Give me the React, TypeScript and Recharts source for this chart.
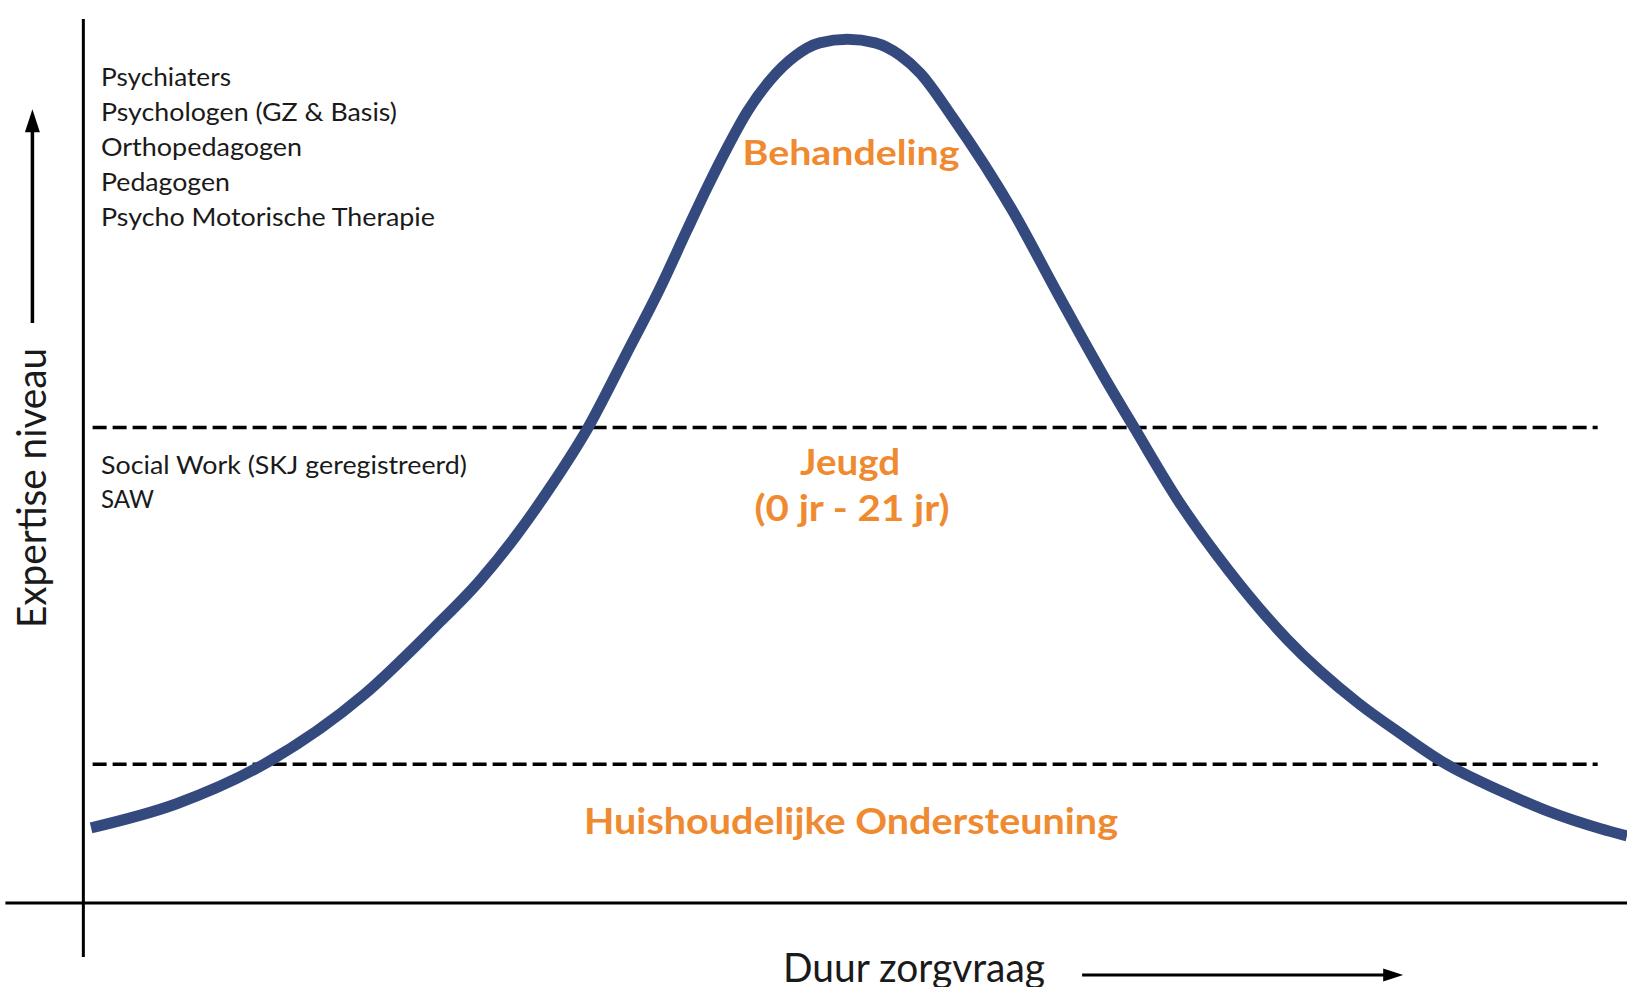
import React from 'react';
import { LineChart, Line, XAxis, YAxis, ReferenceLine, ReferenceDot, Customized } from 'recharts';

// curve: duur (0-100) vs expertise niveau (0-100)
const duur = [0.5, 6.0, 11.7, 18.2, 22.7, 25.7, 28.1, 30.2, 32.7, 35.2, 37.4, 39.1, 40.4, 41.7, 43.0, 44.5, 46.1, 47.7, 49.5, 51.3, 52.9, 54.2, 56.3, 60.2, 63.1, 66.1, 68.1, 70.9, 74.2, 78.0, 82.6, 85.3, 88.2, 91.8, 95.0, 98.3, 100];
const niveau = [8.5, 11.2, 15.7, 23.6, 31.1, 36.5, 41.7, 46.9, 53.8, 62.2, 69.7, 76.1, 80.9, 85.4, 89.5, 93.1, 95.8, 97.3, 97.7, 97.3, 95.9, 93.9, 88.9, 78.3, 69.0, 59.6, 53.7, 45.6, 37.6, 29.8, 22.6, 19.2, 15.8, 12.7, 10.3, 8.4, 7.6];

// grens tussen de niveaus
const grenzen = [53.8, 15.7];

const hoogLabels = ['Psychiaters', 'Psychologen (GZ & Basis)', 'Orthopedagogen', 'Pedagogen', 'Psycho Motorische Therapie'];
const hoogBreedte = [130, 296, 201, 129, 334];
const middenLabels = ['Social Work (SKJ geregistreerd)', 'SAW'];
const middenBreedte = [366, 53];

const data = duur.map((x, i) => ({ x, y: niveau[i] }));

const W = 1627;
const H = 987;
const ORANJE = '#F08A30';
const TEKST = '#1A1A1A';
const FONT = 'Lato, "Open Sans", sans-serif';

const Annotaties = () => (
  <g fontFamily={FONT}>
    {hoogLabels.map((t, i) => (
      <text key={t} x={101} y={86 + i * 35} fontSize={25} fill={TEKST}
        textLength={hoogBreedte[i]} lengthAdjust="spacingAndGlyphs">{t}</text>
    ))}
    {middenLabels.map((t, i) => (
      <text key={t} x={101} y={474 + i * 34} fontSize={25} fill={TEKST}
        textLength={middenBreedte[i]} lengthAdjust="spacingAndGlyphs">{t}</text>
    ))}
    <text transform="translate(46,628) rotate(-90)" fontSize={40} fill={TEKST}
      textLength={280} lengthAdjust="spacingAndGlyphs">Expertise niveau</text>
    <text x={783} y={982} fontSize={40} fill={TEKST}
      textLength={262} lengthAdjust="spacingAndGlyphs">Duur zorgvraag</text>

    <text x={851} y={165} fontSize={34} fontWeight="bold" fill={ORANJE} textAnchor="middle"
      textLength={217} lengthAdjust="spacingAndGlyphs">Behandeling</text>
    <text x={850} y={475} fontSize={37} fontWeight="bold" fill={ORANJE} textAnchor="middle"
      textLength={100} lengthAdjust="spacingAndGlyphs">Jeugd</text>
    <text x={852} y={521} fontSize={37} fontWeight="bold" fill={ORANJE} textAnchor="middle"
      textLength={195} lengthAdjust="spacingAndGlyphs">(0 jr - 21 jr)</text>
    <text x={851} y={834} fontSize={36} fontWeight="bold" fill={ORANJE} textAnchor="middle"
      textLength={534} lengthAdjust="spacingAndGlyphs">Huishoudelijke Ondersteuning</text>
  </g>
);

const PijlOmhoog = (p: any) => (
  <polygon points={`${p.cx},${p.cy} ${p.cx - 7.5},${p.cy + 23} ${p.cx + 7.5},${p.cy + 23}`} fill="#000" />
);
const PijlRechts = (p: any) => (
  <polygon points={`${p.cx},${p.cy} ${p.cx - 20},${p.cy - 6.5} ${p.cx - 20},${p.cy + 6.5}`} fill="#000" />
);

export default function App() {
  return (
    <div style={{ position: 'absolute', left: 0, top: 0, width: W, height: H, background: '#fff' }}>
      <LineChart width={W} height={H} data={data} margin={{ top: 0, right: 0, bottom: 0, left: 0 }}>
        <XAxis type="number" dataKey="x" domain={[-5.4, 100]} allowDataOverflow hide />
        <YAxis type="number" domain={[-9.5, 102.15]} allowDataOverflow hide />

        {/* assen */}
        <ReferenceLine segment={[{ x: 0, y: -6.1 }, { x: 0, y: 100 }]} stroke="#000" strokeWidth={3} />
        <ReferenceLine segment={[{ x: -5.05, y: 0 }, { x: 100, y: 0 }]} stroke="#000" strokeWidth={3} />

        {/* niveaugrenzen */}
        {grenzen.map(g => (
          <ReferenceLine key={g} segment={[{ x: 0.6, y: g }, { x: 98.1, y: g }]}
            stroke="#000" strokeWidth={3.5} strokeDasharray="14 6" />
        ))}

        {/* pijlen bij de aslabels */}
        <ReferenceLine segment={[{ x: -3.3, y: 65.6 }, { x: -3.3, y: 87.4 }]} stroke="#000" strokeWidth={3.5} />
        <ReferenceDot x={-3.3} y={89.8} r={1} shape={PijlOmhoog} />
        <ReferenceLine segment={[{ x: 64.7, y: -8.14 }, { x: 84.4, y: -8.14 }]} stroke="#000" strokeWidth={3} />
        <ReferenceDot x={85.5} y={-8.14} r={1} shape={PijlRechts} />

        <Line type="monotone" dataKey="y" stroke="#344A7F" strokeWidth={11}
          dot={false} activeDot={false} isAnimationActive={false} />

        <Customized component={Annotaties} />
      </LineChart>
    </div>
  );
}
